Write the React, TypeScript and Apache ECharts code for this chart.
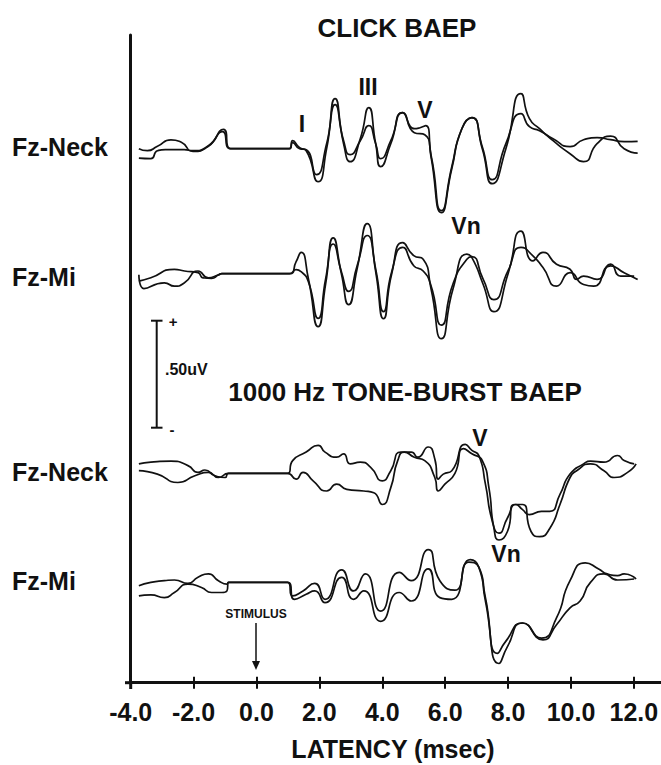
import React, { useEffect, useRef } from "react";
import * as echarts from "echarts";

// Latency axis ticks (msec)
const xTicks = [-4, -2, 0, 2, 4, 6, 8, 10, 12];

// Vertical offsets of the four recording channels (display units; 107 units = 0.50 uV)
const traceBaselines = [534, 409, 209.3, 100.3];

// CLICK BAEP, Fz-Neck  [latency ms, amplitude units]
const clickNeckA: [number, number][] = [
  [-3.74, 0], [-3.47, -2], [-3.15, 2.4], [-2.72, 8.8], [-2.39, 6.4], [-2.02, -2.7], [-1.53, 2.4],
  [-1.05, 19.3], [-0.83, 0], [1.05, 0], [1.15, 8], [1.37, 1], [1.58, -2], [1.96, -33], [2.23, 0],
  [2.5, 50], [2.77, 5], [2.98, -13], [3.3, 10], [3.57, 41], [3.79, 5], [3.95, -18], [4.27, 5],
  [4.65, 36], [5.02, 20], [5.2, 21], [5.38, 23], [5.56, -10], [5.88, -64], [6.21, -20], [6.53, 20],
  [6.85, 31], [7.18, 0], [7.5, -35], [7.93, 0], [8.41, 55], [8.68, 30], [9.0, 20], [9.43, 8],
  [9.97, -5], [10.4, -13], [10.83, 5], [11.26, 12.5], [11.69, 0], [12.12, -4.4],
];
const clickNeckB: [number, number][] = [
  [-3.74, -9.5], [-3.36, -10], [-3.15, -2], [-2.9, -1], [-2.3, -1], [-2.02, -2], [-1.53, 3],
  [-1.08, 17], [-0.83, 0], [1.05, 0], [1.15, 6], [1.37, 0], [1.58, -1], [1.91, -26], [2.23, 5],
  [2.5, 44], [2.77, 8], [2.98, -6], [3.3, 8], [3.57, 23], [3.79, 5], [3.95, -10], [4.27, 8],
  [4.65, 36], [5.02, 16], [5.35, 14], [5.56, -8], [5.88, -62], [6.21, -18], [6.53, 20], [6.85, 31],
  [7.18, 2], [7.5, -31], [7.93, 5], [8.41, 35], [8.68, 22], [9.0, 18], [9.43, 10], [9.97, 2],
  [10.4, 9], [10.83, 11], [11.26, 9], [11.69, 7], [12.12, 7.4],
];

// CLICK BAEP, Fz-Mi
const clickMiA: [number, number][] = [
  [-3.74, -7.4], [-3.36, -4.1], [-2.61, 4.4], [-2.29, 2.7], [-1.86, 1], [-1.7, -4.1], [-1.43, -4.7],
  [-1.21, -1.4], [-1.1, 0], [1.05, 0], [1.26, 12], [1.42, 21.3], [1.65, -5], [1.96, -53], [2.2, -10],
  [2.44, 35.8], [2.7, 0], [2.93, -31], [3.2, 5], [3.52, 50], [3.8, 0], [4.04, -45], [4.3, 0],
  [4.65, 31], [5.0, 18], [5.3, 14.5], [5.55, -15], [5.88, -65], [6.25, -15], [6.69, 19.6], [6.85, 16],
  [7.2, -10], [7.55, -38], [8.0, 0], [8.41, 42.6], [8.79, 12.8], [9.11, 21.3], [9.54, 9.5], [9.97, 4.4],
  [10.18, -5.7], [10.4, -2.4], [10.83, -5.7], [11.26, 9.5], [11.58, -2.4], [12.01, -2.4],
];
const clickMiB: [number, number][] = [
  [-3.74, -1], [-3.58, -14.9], [-2.93, -9.1], [-2.61, -12.5], [-2.29, -9.1], [-1.86, 2.7], [-1.53, -4.1],
  [-1.21, -1], [-1.1, 0], [1.05, 0], [1.26, 4], [1.42, 2], [1.65, -8], [1.96, -44.6], [2.2, -5],
  [2.44, 29.7], [2.7, 2], [2.93, -17.6], [3.2, 8], [3.52, 38.2], [3.8, 3], [4.04, -38], [4.3, 2],
  [4.65, 26.4], [5.0, 8], [5.3, 2.7], [5.55, -12], [5.88, -51.4], [6.25, -10], [6.69, 14.5], [6.85, 17],
  [7.2, -5], [7.55, -26], [8.0, 3], [8.41, 26.4], [8.79, 17.9], [9.11, 6.1], [9.54, -12.5], [9.97, 1],
  [10.4, -10.8], [10.72, -12.5], [11.26, 7.8], [11.69, 1], [12.12, -5.7],
];

// 1000 Hz TONE-BURST BAEP, Fz-Neck
const toneNeckA: [number, number][] = [
  [-3.74, 9.5], [-3.36, 11.2], [-2.72, 12.2], [-2.18, 7.8], [-1.86, 1], [-1.64, 3.4], [-1.32, -2.4],
  [-1.0, -4.1], [-0.89, 0], [0.99, 0], [1.15, 12.8], [1.58, 21.3], [1.96, 28.1], [2.18, 21.3],
  [2.55, 16.2], [2.77, 19.6], [2.98, 9.5], [3.3, 11.2], [3.63, 6.1], [4.0, -7.4], [4.27, 2.7],
  [4.59, 21.3], [4.92, 21.3], [5.13, 16.2], [5.46, 26.4], [5.67, 14.5], [5.78, -5.7], [5.94, -0.7],
  [6.21, 2.7], [6.64, 29.1], [6.85, 23], [7.07, 17.9], [7.28, -10.8], [7.5, -48], [7.71, -59.8],
  [7.98, -44.6], [8.25, -31.1], [8.46, -36.2], [8.68, -41.2], [9.06, -37.9], [9.33, -37.9],
  [9.65, -21], [9.97, -0.7], [10.4, 9.5], [10.62, 12.2], [11.05, 11.2], [11.48, 17.9], [11.69, 12.8],
  [12.01, 9.5],
];
const toneNeckB: [number, number][] = [
  [-3.74, 2.7], [-3.15, -0.7], [-2.5, -9.1], [-1.96, -2.4], [-1.53, 1], [-1.21, -4.1], [-0.89, 0],
  [0.99, 0], [1.26, -5.7], [1.48, 1], [1.8, -7.4], [2.23, -17.6], [2.55, -10.8], [2.87, -15.9],
  [3.41, -17.6], [3.73, -19.3], [4.0, -31.1], [4.27, -14.2], [4.49, 12.8], [4.7, 21.3], [5.02, 16.2],
  [5.35, 12.8], [5.67, -4.1], [5.78, -17.6], [5.99, -10.8], [6.31, 0], [6.58, 24.7], [6.85, 19.6],
  [7.18, 12.8], [7.39, -14.2], [7.55, -54.8], [7.71, -66.6], [7.98, -58.1], [8.2, -31.1],
  [8.46, -31.1], [8.73, -58.1], [9.0, -63.2], [9.33, -54.8], [9.65, -31.1], [9.97, -4.1],
  [10.18, 2.7], [10.62, 9.5], [11.05, 2.7], [11.37, -4.1], [11.8, 1], [12.07, 9.5],
];

// 1000 Hz TONE-BURST BAEP, Fz-Mi
const toneMiA: [number, number][] = [
  [-3.74, -3.4], [-3.36, 0], [-2.93, 1.7], [-2.61, 2.4], [-2.18, -1], [-1.86, 5.1], [-1.53, 8.5],
  [-1.21, 1.7], [-0.94, -1.7], [-0.89, 0], [0.99, 0], [1.15, -13.5], [1.48, -8.5], [1.85, -1],
  [2.18, -16.9], [2.71, 12.5], [3.09, -8.5], [3.46, 8.5], [3.95, -28.7], [4.54, 10.1], [4.92, 1.7],
  [5.46, 32.8], [5.83, 1.7], [6.31, -7.8], [6.75, 20.3], [7.07, 15.2], [7.28, -15.2], [7.66, -71],
  [7.92, -59.2], [8.46, -40.6], [9.06, -55.8], [9.54, -35.5], [9.97, 1.7], [10.455, 19.6],
  [10.88, 13.5], [11.15, 8.5], [11.48, 6.8], [11.69, 8.5], [12.07, 3.4],
];
const toneMiB: [number, number][] = [
  [-3.74, -13.5], [-3.36, -12.5], [-2.93, -15.2], [-2.61, -10.1], [-2.18, -1.7], [-1.75, -5.1],
  [-1.43, -10.1], [-1.1, -10.1], [-0.94, -8.5], [-0.89, 0], [0.99, 0], [1.21, -16.9], [1.58, -11.8],
  [1.85, -8.5], [2.18, -20.3], [2.71, 5.1], [3.09, -16.9], [3.41, -8.5], [3.95, -38.9], [4.54, -10.1],
  [4.92, -18.6], [5.46, 13.5], [5.83, -15.2], [6.21, -16.9], [6.8, 22.7], [7.07, 15.2], [7.28, -18.6],
  [7.71, -81.1], [7.98, -64.2], [8.46, -40.6], [9.11, -57.5], [9.54, -42.3], [9.97, -25.4],
  [10.29, -18.6], [10.62, 0], [11.05, 8.5], [11.48, 2.4], [12.01, 3.4],
];

const FONT = "'Liberation Sans', Arial, Helvetica, sans-serif";
const INK = "#111";

function txt(text: string, x: number, y: number, size: number, align = "center") {
  return {
    type: "text",
    x,
    y,
    silent: true,
    style: {
      text,
      fill: INK,
      fontFamily: FONT,
      fontWeight: "bold",
      fontSize: size,
      align,
      verticalAlign: "middle",
    },
  };
}

function seg(x1: number, y1: number, x2: number, y2: number, w = 2) {
  return {
    type: "line",
    silent: true,
    shape: { x1, y1, x2, y2 },
    style: { stroke: INK, lineWidth: w },
  };
}

export default function App() {
  const ref = useRef<HTMLDivElement>(null);

  useEffect(() => {
    if (!ref.current) return;
    const chart = echarts.init(ref.current, null, { renderer: "svg" });

    const traces = [
      { name: "Click Fz-Neck A", pts: clickNeckA, base: traceBaselines[0] },
      { name: "Click Fz-Neck B", pts: clickNeckB, base: traceBaselines[0] },
      { name: "Click Fz-Mi A", pts: clickMiA, base: traceBaselines[1] },
      { name: "Click Fz-Mi B", pts: clickMiB, base: traceBaselines[1] },
      { name: "Tone Fz-Neck A", pts: toneNeckA, base: traceBaselines[2] },
      { name: "Tone Fz-Neck B", pts: toneNeckB, base: traceBaselines[2] },
      { name: "Tone Fz-Mi A", pts: toneMiA, base: traceBaselines[3] },
      { name: "Tone Fz-Mi B", pts: toneMiB, base: traceBaselines[3] },
    ];

    const option: any = {
      animation: false,
      backgroundColor: "#fff",
      grid: {
        left: 130.7,
        right: 0.4,
        top: 35,
        bottom: 82.3,
        containLabel: false,
        outerBoundsMode: "none",
      },
      xAxis: [
        {
          type: "value",
          min: -4,
          max: 12.85,
          position: "bottom",
          axisLine: { show: true, onZero: false, lineStyle: { color: INK, width: 3 } },
          axisTick: {
            show: true,
            customValues: xTicks,
            length: 6,
            lineStyle: { color: INK, width: 2 },
          },
          axisLabel: {
            show: true,
            customValues: xTicks,
            formatter: (v: number) => v.toFixed(1),
            color: INK,
            fontFamily: FONT,
            fontWeight: "bold",
            fontSize: 25,
            margin: 17,
          },
          splitLine: { show: false },
        },
        {
          type: "value",
          min: -4,
          max: 12.85,
          position: "bottom",
          axisLine: { show: false, onZero: false },
          axisTick: {
            show: true,
            inside: true,
            customValues: xTicks,
            length: 6,
            lineStyle: { color: INK, width: 2 },
          },
          axisLabel: { show: false },
          splitLine: { show: false },
        },
      ],
      yAxis: {
        type: "value",
        min: 0,
        max: 647.7,
        axisLine: { show: true, onZero: false, lineStyle: { color: INK, width: 3 } },
        axisTick: { show: false },
        axisLabel: { show: false },
        splitLine: { show: false },
      },
      series: traces.map((t) => ({
        type: "line",
        name: t.name,
        xAxisIndex: 0,
        yAxisIndex: 0,
        data: t.pts.map(([ms, a]) => [ms, t.base + a]),
        smooth: 0.6,
        symbol: "none",
        silent: true,
        lineStyle: { color: INK, width: 1.7 },
      })),
      graphic: [
        txt("CLICK BAEP", 397, 28, 26),
        txt("1000 Hz TONE-BURST BAEP", 405, 392, 26),
        txt("Fz-Neck", 12, 147, 25, "left"),
        txt("Fz-Mi", 12, 277, 25, "left"),
        txt("Fz-Neck", 12, 472, 25, "left"),
        txt("Fz-Mi", 12, 581, 25, "left"),
        txt("I", 302, 124, 23),
        txt("III", 368, 87, 23),
        txt("V", 425, 110, 23),
        txt("Vn", 466, 226, 23),
        txt("V", 480, 438, 23),
        txt("Vn", 506, 554, 23),
        txt(".50uV", 165, 369, 16, "left"),
        txt("+", 173, 321, 15),
        txt("-", 172, 429, 15),
        txt("STIMULUS", 256, 613.5, 12),
        txt("LATENCY (msec)", 393, 749, 25),
        // scale bar
        seg(156.7, 320.7, 156.7, 427.7, 2),
        seg(151, 320.7, 162.5, 320.7, 2),
        seg(151, 427.7, 162.5, 427.7, 2),
        // stimulus arrow
        seg(256, 623, 256, 664, 1.5),
        {
          type: "polygon",
          silent: true,
          shape: { points: [[252, 661], [260, 661], [256, 670]] },
          style: { fill: INK },
        },
        // axis overhangs
        seg(125, 682.7, 132, 682.7, 3),
        seg(130.7, 681, 130.7, 689, 3),
      ],
    };

    chart.setOption(option);
    return () => chart.dispose();
  }, []);

  return (
    <div
      ref={ref}
      style={{ position: "fixed", left: 0, top: 0, width: 661, height: 765, background: "#fff" }}
    />
  );
}
